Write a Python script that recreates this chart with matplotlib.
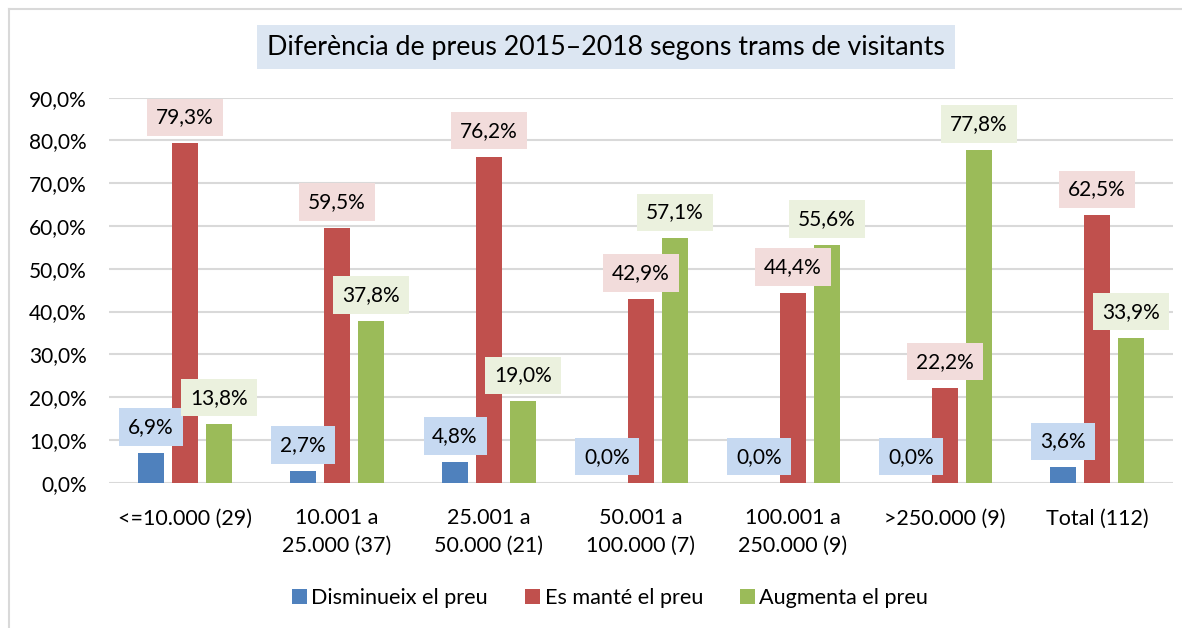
import matplotlib
matplotlib.use("Agg")
import matplotlib.pyplot as plt
from matplotlib.lines import Line2D
import numpy as np

plt.rcParams['font.family'] = ['Lato', 'DejaVu Sans']

categories = ['<=10.000 (29)', '10.001 a\n25.000 (37)', '25.001 a\n50.000 (21)',
              '50.001 a\n100.000 (7)', '100.001 a\n250.000 (9)', '>250.000 (9)', 'Total (112)']
series_names = ['Disminueix el preu', 'Es manté el preu', 'Augmenta el preu']
disminueix = [6.9, 2.7, 4.8, 0.0, 0.0, 0.0, 3.6]
mante = [79.3, 59.5, 76.2, 42.9, 44.4, 22.2, 62.5]
augmenta = [13.8, 37.8, 19.0, 57.1, 55.6, 77.8, 33.9]
yticks = [0, 10, 20, 30, 40, 50, 60, 70, 80, 90]
title = 'Diferència de preus 2015–2018 segons trams de visitants'

colors = ['#4F81BD', '#C0504D', '#9BBB59']
label_bg = ['#C6D9F1', '#F2DCDB', '#EBF1DE']

W, H = 1182, 628
fig = plt.figure(figsize=(W / 100, H / 100), dpi=100)
ax = fig.add_axes([109 / W, 1 - 482.7 / H, (1173 - 109) / W, (482.7 - 97.7) / H])

x = np.arange(len(categories))
bw = 26 / 152
step = 34 / 152
fs = 15
px = 72 / 100  # points per pixel

for i, (vals, c, bg) in enumerate(zip([disminueix, mante, augmenta], colors, label_bg)):
    xs = x + (i - 1) * step
    ax.bar(xs, vals, width=bw, color=c, zorder=2, label=series_names[i])
    for xi, v in zip(xs, vals):
        ax.annotate(f"{v:.1f}%".replace('.', ','), (xi, v), xytext=(0, 16 * px),
                    textcoords='offset points', ha='center', va='bottom',
                    fontsize=fs, color='#000000', zorder=4,
                    bbox=dict(boxstyle='square,pad=0.42', fc=bg, ec='none'))

ax.set_xlim(-0.5, len(categories) - 0.5)
ax.set_ylim(0, 90)
ax.set_yticks(yticks)
ax.set_yticklabels([f"{t:.1f}%".replace('.', ',') for t in yticks], fontsize=fs)
ax.set_xticks(x)
ax.set_xticklabels(categories, fontsize=15.5, linespacing=1.45)
ax.grid(axis='y', color='#D9D9D9', linewidth=1.5, zorder=0)
for s in ax.spines.values():
    s.set_visible(False)
ax.tick_params(axis='both', length=0)
ax.tick_params(axis='y', pad=16)
ax.tick_params(axis='x', pad=18.5)

fig.text(606 / W, 1 - 47 / H, title, ha='center', va='center', fontsize=19.3,
         bbox=dict(boxstyle='square,pad=0.36', fc='#DCE6F2', ec='none'))

lfs = 15.6
leg = fig.legend(loc='center', bbox_to_anchor=(610 / W, 1 - 598 / H), ncol=3,
                 frameon=False, fontsize=lfs, handlelength=0.69, handleheight=0.69,
                 handletextpad=0.22, columnspacing=1.7)

# chart border (left and top visible)
fig.add_artist(Line2D([9.5 / W, 9.5 / W], [0, 1 - 8.5 / H], color='#D9D9D9', lw=1.5))
fig.add_artist(Line2D([9.5 / W, 1], [1 - 8.5 / H, 1 - 8.5 / H], color='#D9D9D9', lw=1.5))

fig.savefig('out.png', dpi=100)
